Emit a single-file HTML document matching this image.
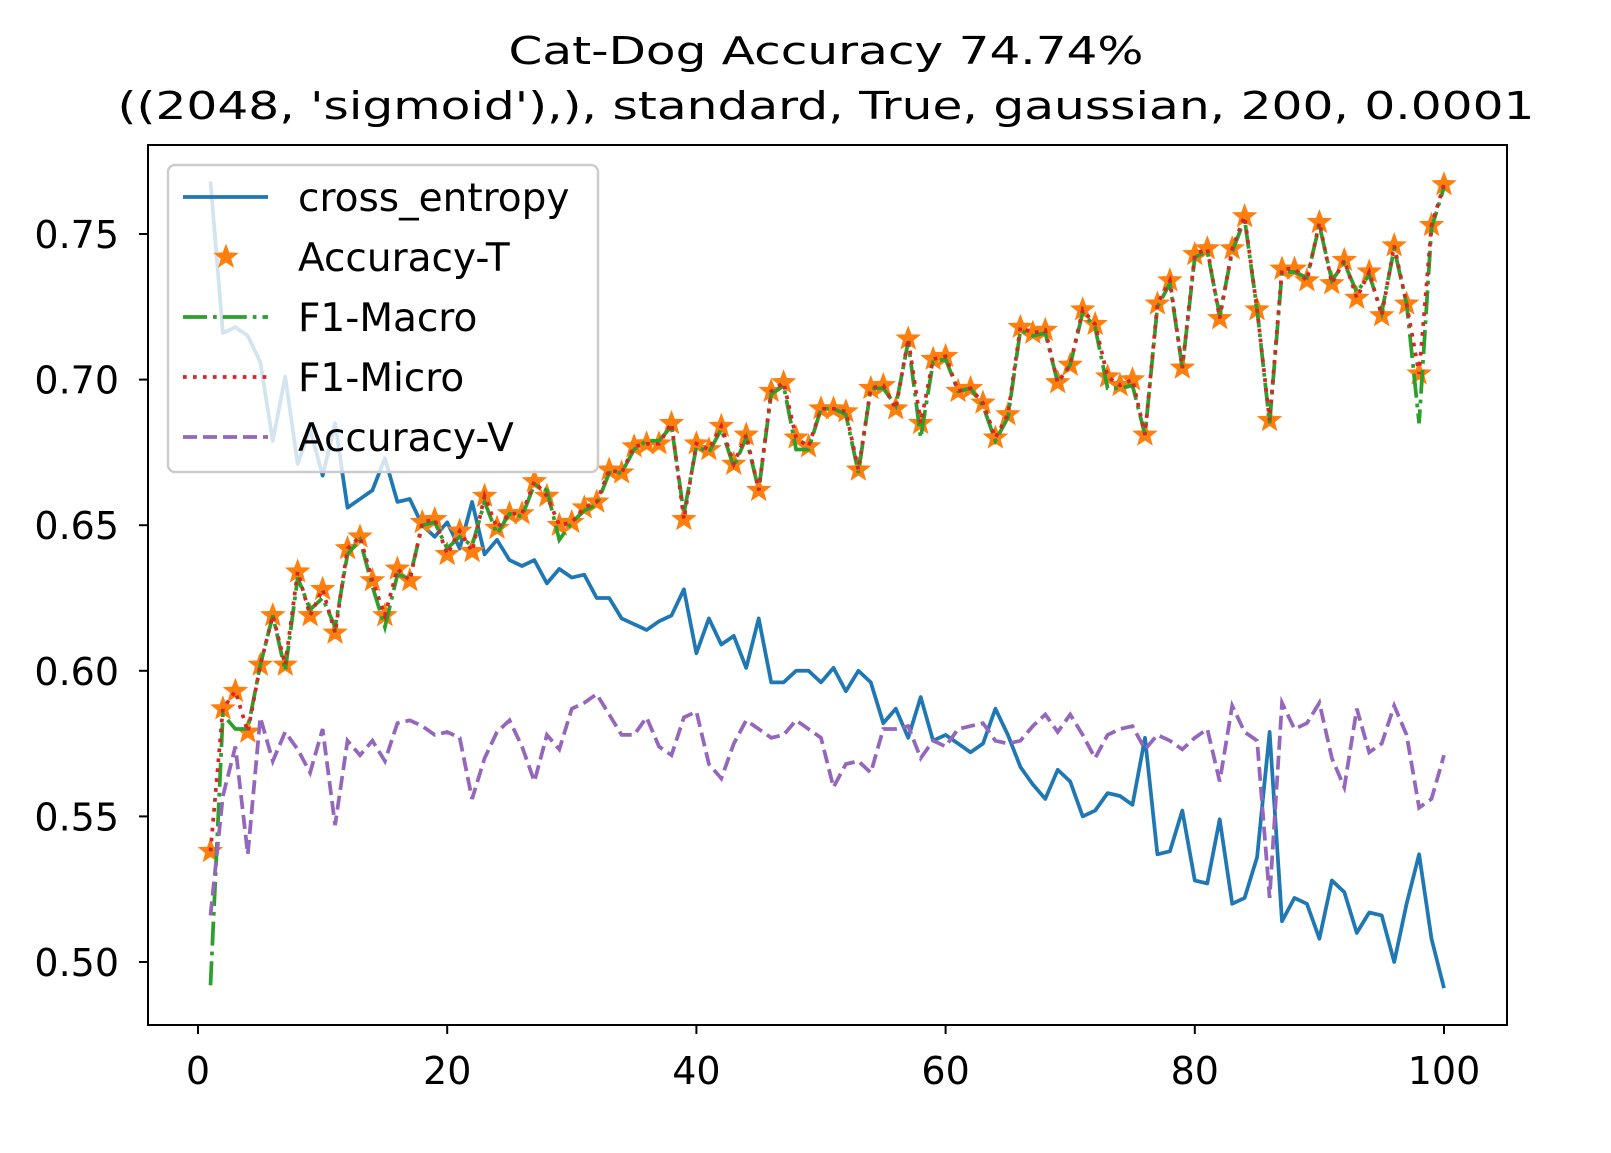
<!DOCTYPE html>
<html><head><meta charset="utf-8">
<style>
body{margin:0;background:#fff;}
svg{display:block;font-family:"DejaVu Sans","Liberation Sans",sans-serif;}
</style></head>
<body>
<svg id="chart" width="1611" height="1153" viewBox="0 0 1611 1153" xmlns="http://www.w3.org/2000/svg">
<rect width="1611" height="1153" fill="#fff"/>
<text x="826" y="64" font-size="38" text-anchor="middle" textLength="635" lengthAdjust="spacingAndGlyphs">Cat-Dog Accuracy 74.74%</text>
<text x="826" y="119" font-size="38" text-anchor="middle" textLength="1417" lengthAdjust="spacingAndGlyphs">((2048, 'sigmoid'),), standard, True, gaussian, 200, 0.0001</text>
<g id="plot"></g>
<g id="axes"></g>
<g id="legend"></g>
</svg>
<script>
const epochs = Array.from({length:100},(_,i)=>i+1);
const crossEntropy = [0.768,0.716,0.718,0.715,0.706,0.679,0.701,0.671,0.683,0.667,0.685,0.656,0.659,0.662,0.673,0.658,0.659,0.650,0.646,0.651,0.642,0.658,0.640,0.645,0.638,0.636,0.638,0.630,0.635,0.632,0.633,0.625,0.625,0.618,0.616,0.614,0.617,0.619,0.628,0.606,0.618,0.609,0.612,0.601,0.618,0.596,0.596,0.600,0.600,0.596,0.601,0.593,0.600,0.596,0.582,0.587,0.577,0.591,0.576,0.578,0.575,0.572,0.575,0.587,0.578,0.567,0.561,0.556,0.566,0.562,0.550,0.552,0.558,0.557,0.554,0.577,0.537,0.538,0.552,0.528,0.527,0.549,0.520,0.522,0.536,0.579,0.514,0.522,0.520,0.508,0.528,0.524,0.510,0.517,0.516,0.500,0.520,0.537,0.508,0.491];
const accuracyT = [0.538,0.587,0.593,0.579,0.602,0.619,0.602,0.634,0.619,0.628,0.613,0.642,0.646,0.631,0.619,0.635,0.631,0.651,0.652,0.640,0.648,0.641,0.660,0.649,0.654,0.654,0.665,0.660,0.650,0.651,0.656,0.658,0.669,0.668,0.677,0.678,0.678,0.685,0.652,0.678,0.676,0.684,0.671,0.681,0.662,0.696,0.699,0.680,0.677,0.690,0.690,0.689,0.669,0.697,0.698,0.690,0.714,0.685,0.707,0.708,0.696,0.697,0.692,0.680,0.688,0.718,0.716,0.717,0.699,0.705,0.724,0.719,0.701,0.698,0.700,0.681,0.726,0.734,0.704,0.743,0.745,0.721,0.745,0.756,0.724,0.686,0.738,0.738,0.734,0.754,0.733,0.741,0.728,0.737,0.722,0.746,0.726,0.702,0.753,0.767];
const f1Macro = [0.492,0.585,0.580,0.580,0.602,0.619,0.600,0.632,0.621,0.625,0.615,0.640,0.645,0.629,0.615,0.633,0.632,0.650,0.651,0.642,0.646,0.643,0.658,0.647,0.654,0.653,0.664,0.662,0.645,0.651,0.655,0.657,0.668,0.668,0.676,0.679,0.679,0.684,0.654,0.677,0.675,0.683,0.670,0.680,0.662,0.695,0.698,0.676,0.676,0.690,0.690,0.688,0.668,0.697,0.697,0.691,0.713,0.680,0.706,0.707,0.696,0.697,0.691,0.679,0.687,0.717,0.715,0.716,0.699,0.705,0.723,0.718,0.697,0.697,0.698,0.681,0.725,0.733,0.704,0.742,0.744,0.722,0.744,0.755,0.724,0.685,0.737,0.737,0.735,0.753,0.734,0.740,0.730,0.736,0.723,0.745,0.726,0.685,0.752,0.766];
const f1Micro = accuracyT.slice();
const accuracyV = [0.516,0.557,0.574,0.537,0.584,0.569,0.579,0.573,0.565,0.580,0.547,0.576,0.571,0.576,0.569,0.582,0.583,0.581,0.578,0.579,0.577,0.556,0.570,0.579,0.583,0.574,0.562,0.578,0.573,0.587,0.589,0.592,0.585,0.578,0.578,0.584,0.574,0.571,0.584,0.586,0.568,0.563,0.575,0.583,0.580,0.577,0.578,0.583,0.580,0.577,0.560,0.568,0.569,0.565,0.580,0.580,0.581,0.570,0.576,0.574,0.580,0.581,0.582,0.576,0.575,0.576,0.581,0.585,0.579,0.585,0.578,0.570,0.578,0.580,0.581,0.573,0.578,0.576,0.573,0.577,0.580,0.562,0.588,0.579,0.576,0.522,0.589,0.580,0.582,0.589,0.570,0.560,0.587,0.572,0.575,0.588,0.578,0.553,0.556,0.571];
const xTicks = [0,20,40,60,80,100];
const yTicks = [0.50,0.55,0.60,0.65,0.70,0.75];

const NS="http://www.w3.org/2000/svg";
const L=148,R=1507,T=145,B=1025;
const sx=v=>198+(v-0)*12.46;
const sy=v=>234+(0.75-v)*2912;
function mk(tag,attrs,parent){const e=document.createElementNS(NS,tag);for(const k in attrs)e.setAttribute(k,attrs[k]);parent.appendChild(e);return e;}
const plot=document.getElementById('plot'),axes=document.getElementById('axes'),legend=document.getElementById('legend');
mk('clipPath',{id:'clip'},plot).appendChild((()=>{const r=document.createElementNS(NS,'rect');r.setAttribute('x',L);r.setAttribute('y',T);r.setAttribute('width',R-L);r.setAttribute('height',B-T);return r;})());
const g=mk('g',{'clip-path':'url(#clip)'},plot);
function pts(arr){return arr.map((v,i)=>sx(epochs[i]).toFixed(1)+','+sy(v).toFixed(1)).join(' ');}
const lw=3.75;
const ce=mk('polyline',{points:pts(crossEntropy),fill:'none',stroke:'#1f77b4','stroke-width':lw,'stroke-linejoin':'round'},g);


const starG=mk('g',{},g);


function starPath(cx,cy,r){let d='';for(let k=0;k<10;k++){const rr=k%2?r*0.42:r;const a=-Math.PI/2+k*Math.PI/5;d+=(k?'L':'M')+(cx+rr*Math.cos(a)).toFixed(1)+','+(cy+rr*Math.sin(a)).toFixed(1);}return d+'Z';}
accuracyT.forEach((v,i)=>{const s=mk('path',{d:starPath(sx(epochs[i]),sy(v),12),fill:'#ff7f0e',stroke:'#ff7f0e','stroke-width':1},starG);

});
const mac=mk('polyline',{points:pts(f1Macro),fill:'none',stroke:'#2ca02c','stroke-width':lw,'stroke-dasharray':'24 6 3.75 6'},g);


const mic=mk('polyline',{points:pts(f1Micro),fill:'none',stroke:'#d62728','stroke-width':lw,'stroke-dasharray':'3.75 6.2'},g);


const av=mk('polyline',{points:pts(accuracyV),fill:'none',stroke:'#9467bd','stroke-width':lw,'stroke-dasharray':'14 6'},g);


// axes
const frame=mk('rect',{x:L,y:T,width:R-L,height:B-T,fill:'none',stroke:'#000','stroke-width':2},axes);


xTicks.forEach(t=>{const x=sx(t);mk('line',{x1:x,y1:B,x2:x,y2:B+9,stroke:'#000','stroke-width':2},axes);
const tx=mk('text',{x:x,y:B+59,'font-size':38,'text-anchor':'middle'},axes);tx.textContent=t;

});
yTicks.forEach(t=>{const y=sy(t);mk('line',{x1:L-9,y1:y,x2:L,y2:y,stroke:'#000','stroke-width':2},axes);
const tx=mk('text',{x:L-29,y:y+14,'font-size':38,'text-anchor':'end'},axes);tx.textContent=t.toFixed(2);

});
// legend
mk('rect',{x:168,y:165,width:430,height:307,rx:7,fill:'#fff','fill-opacity':0.8,stroke:'#ccc','stroke-width':2.5},legend);
const entries=[['cross_entropy','#1f77b4','none'],['Accuracy-T','star',''],['F1-Macro','#2ca02c','24 6 3.75 6'],['F1-Micro','#d62728','3.75 6.2'],['Accuracy-V','#9467bd','14 6']];
entries.forEach((e,i)=>{const y=197+i*60;
const eg=mk('g',{},legend);


if(e[1]==='star'){mk('path',{d:starPath(226,y,12),fill:'#ff7f0e',stroke:'#ff7f0e'},eg);}
else{const a={x1:183,y1:y,x2:268,y2:y,stroke:e[1],'stroke-width':lw};if(e[2]!=='none')a['stroke-dasharray']=e[2];mk('line',a,eg);}
const tx=mk('text',{x:298,y:y+14,'font-size':39},eg);tx.textContent=e[0];});
</script>
</body></html>
